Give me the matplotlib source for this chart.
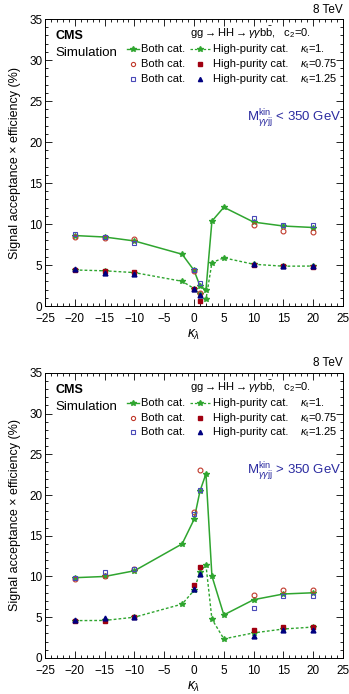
import matplotlib
matplotlib.use("Agg")
import matplotlib.pyplot as plt
from matplotlib.ticker import MultipleLocator

plt.rcParams['font.family'] = ['Liberation Sans', 'DejaVu Sans']
plt.rcParams['mathtext.fontset'] = 'custom'
plt.rcParams['mathtext.rm'] = 'Liberation Sans'
plt.rcParams['mathtext.it'] = 'Liberation Sans:italic'

# kappa_lambda points
kl = [-20, -15, -10, -2, 0, 1, 2, 3, 5, 10, 15, 20]
kl_alt = [-20, -15, -10, 0, 1, 10, 15, 20]

# M_ggjj < 350 GeV
both_kt1_lo = [8.6, 8.42, 7.94, 6.32, 4.35, 2.45, 1.98, 10.36, 12.05, 10.24, 9.76, 9.58]
hp_kt1_lo = [4.4, 4.3, 4.08, 3.02, 2.14, 1.45, 0.81, 5.3, 5.88, 5.1, 4.86, 4.88]
both_kt075_lo = [8.4, 8.3, 8.16, 4.3, 1.55, 9.86, 9.15, 9.05]
both_kt125_lo = [8.8, 8.48, 7.74, 4.4, 2.83, 10.69, 9.9, 9.88]
hp_kt075_lo = [4.4, 4.24, 4.12, 2.14, 0.57, 4.95, 4.85, 4.72]
hp_kt125_lo = [4.48, 4.0, 3.87, 2.14, 1.38, 5.17, 4.85, 4.93]

# M_ggjj > 350 GeV
both_kt1_hi = [9.85, 10.0, 10.7, 14.0, 17.0, 20.5, 22.6, 10.05, 5.28, 7.15, 7.85, 8.0]
hp_kt1_hi = [4.58, 4.6, 5.0, 6.61, 8.3, 10.6, 11.4, 4.76, 2.34, 3.07, 3.55, 3.79]
both_kt075_hi = [9.71, 10.11, 10.92, 17.92, 23.08, 7.78, 8.28, 8.3]
both_kt125_hi = [9.87, 10.5, 10.9, 17.68, 20.58, 6.09, 7.64, 7.64]
hp_kt075_hi = [4.54, 4.48, 5.04, 8.95, 11.12, 3.45, 3.76, 3.8]
hp_kt125_hi = [4.6, 4.96, 5.04, 8.42, 10.25, 2.7, 3.37, 3.43]

green = '#2fa52f'
red = '#c0392b'
dred = '#a00010'
blue = '#4a4ab8'
navy = '#000080'
txtblue = '#2b2ba0'


def draw_panel(ax, b1, h1, b075, b125, h075, h125, mlabel):
    ax.plot(kl, b1, '-', color=green, lw=1.1, marker='*', ms=4, zorder=3)
    ax.plot(kl, h1, '--', color=green, lw=1.0, marker='*', ms=4, dashes=(2, 1.5), zorder=3)
    ax.plot(kl_alt, b075, 'o', mfc='none', mec=red, ms=3.5, mew=0.8, zorder=4)
    ax.plot(kl_alt, b125, 's', mfc='none', mec=blue, ms=3.5, mew=0.8, zorder=4)
    ax.plot(kl_alt, h075, 's', color=dred, ms=3, zorder=4)
    ax.plot(kl_alt, h125, '^', color=navy, ms=3.5, zorder=4)

    ax.set_xlim(-25, 25)
    ax.set_ylim(0, 35)
    ax.xaxis.set_major_locator(MultipleLocator(5))
    ax.xaxis.set_minor_locator(MultipleLocator(1))
    ax.yaxis.set_major_locator(MultipleLocator(5))
    ax.yaxis.set_minor_locator(MultipleLocator(1))
    ax.tick_params(which='both', direction='in', top=True, right=True, labelsize=8.5, width=0.6)
    ax.tick_params(which='major', length=5)
    ax.tick_params(axis='x', which='major', pad=5)
    ax.tick_params(axis='y', which='major', pad=2)
    ax.tick_params(which='minor', length=2.5)
    for s in ax.spines.values():
        s.set_linewidth(0.7)
    ax.set_xlabel(r'$\kappa_\lambda$', fontsize=10, labelpad=2)
    ax.set_ylabel('Signal acceptance \u00d7 efficiency (%)', fontsize=9)
    ax.yaxis.set_label_coords(-0.08, 0.5)

    ax.text(1.0, 1.012, '8 TeV', transform=ax.transAxes, ha='right', va='bottom', fontsize=8.5)
    ax.text(0.034, 0.94, 'CMS', transform=ax.transAxes, ha='left', va='center', fontsize=9, fontweight='bold')
    ax.text(0.034, 0.882, 'Simulation', transform=ax.transAxes, ha='left', va='center', fontsize=9.5)

    ax.text(0.487, 0.952, r'gg$\rightarrow$HH$\rightarrow\gamma\gamma$b$\bar{\rm b}$,   c$_2$=0.',
            transform=ax.transAxes, ha='left', va='center', fontsize=8)
    rows = [0.895, 0.843, 0.791]
    kt_txt = [r'$\kappa_{\rm t}$=1.', r'$\kappa_{\rm t}$=0.75', r'$\kappa_{\rm t}$=1.25']
    # legend handles
    ax.plot([0.274, 0.314], [rows[0]] * 2, '-', color=green, lw=1.0, transform=ax.transAxes, clip_on=False)
    ax.plot([0.294], [rows[0]], '*', color=green, ms=4, transform=ax.transAxes, clip_on=False)
    ax.plot([0.296], [rows[1]], 'o', mfc='none', mec=red, ms=3, mew=0.8, transform=ax.transAxes, clip_on=False)
    ax.plot([0.296], [rows[2]], 's', mfc='none', mec=blue, ms=3, mew=0.8, transform=ax.transAxes, clip_on=False)
    ax.plot([0.487, 0.554], [rows[0]] * 2, '--', color=green, lw=0.9, dashes=(2, 1.5),
            transform=ax.transAxes, clip_on=False)
    ax.plot([0.52], [rows[0]], '*', color=green, ms=4, transform=ax.transAxes, clip_on=False)
    ax.plot([0.52], [rows[1]], 's', color=dred, ms=2.8, transform=ax.transAxes, clip_on=False)
    ax.plot([0.52], [rows[2]], '^', color=navy, ms=3, transform=ax.transAxes, clip_on=False)
    for i, y in enumerate(rows):
        ax.text(0.322, y, 'Both cat.', transform=ax.transAxes, ha='left', va='center', fontsize=8)
        ax.text(0.564, y, 'High-purity cat.', transform=ax.transAxes, ha='left', va='center', fontsize=8)
        ax.text(0.856, y, kt_txt[i], transform=ax.transAxes, ha='left', va='center', fontsize=8)

    ax.text(0.995, 0.655, mlabel, transform=ax.transAxes, ha='right', va='center', fontsize=9.5, color=txtblue)


fig = plt.figure(figsize=(3.49, 6.94), dpi=100)
ax1 = fig.add_axes([0.129, 0.559, 0.854, 0.4135])
ax2 = fig.add_axes([0.129, 0.052, 0.854, 0.4107])

draw_panel(ax1, both_kt1_lo, hp_kt1_lo, both_kt075_lo, both_kt125_lo, hp_kt075_lo, hp_kt125_lo,
           r'M$_{\gamma\gamma{\rm jj}}^{\rm kin}$ < 350 GeV')
draw_panel(ax2, both_kt1_hi, hp_kt1_hi, both_kt075_hi, both_kt125_hi, hp_kt075_hi, hp_kt125_hi,
           r'M$_{\gamma\gamma{\rm jj}}^{\rm kin}$ > 350 GeV')

fig.savefig('out.png', dpi=100)
